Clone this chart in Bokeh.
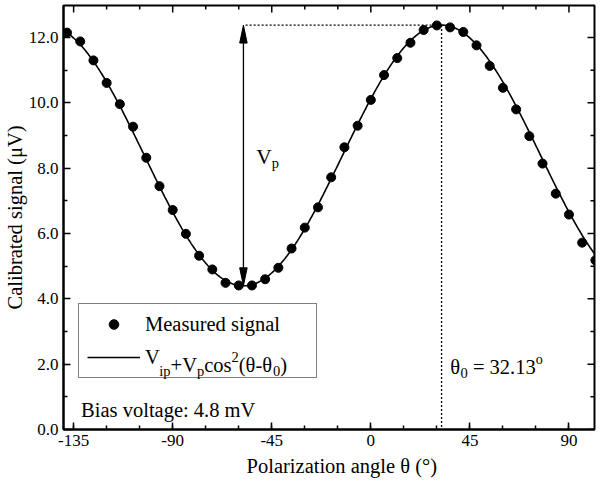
import numpy as np
from bokeh.plotting import figure
from bokeh.models import (Range1d, FixedTicker, Legend, LegendItem,
                          Label, PrintfTickFormatter)
from bokeh.embed import file_html
from bokeh.resources import INLINE

# ---------------- data ----------------
theta_deg = [-138, -132, -126, -120, -114, -108, -102, -96, -90, -84, -78, -72,
             -66, -60, -54, -48, -42, -36, -30, -24, -18, -12, -6, 0, 6, 12,
             18, 24, 30, 36, 42, 48, 54, 60, 66, 72, 78, 84, 90, 96, 102]
signal_uv = [12.15, 11.88, 11.30, 10.61, 9.96, 9.27, 8.32, 7.45, 6.72, 5.99,
             5.32, 4.90, 4.49, 4.41, 4.41, 4.60, 4.95, 5.54, 6.18, 6.80, 7.72,
             8.64, 9.30, 10.09, 10.85, 11.37, 11.84, 12.23, 12.37, 12.31, 12.17,
             11.76, 11.13, 10.46, 9.80, 8.98, 8.14, 7.22, 6.58, 5.72, 5.18]

# fit parameters  V = Vip + Vp cos^2(theta - theta0)
fit_vip = 4.40
fit_vp = 7.98
fit_theta0 = 32.13
bias_text = "Bias voltage: 4.8 mV"

x_ticks = [-135, -90, -45, 0, 45, 90]
x_minor = [-135, -120, -105, -90, -75, -60, -45, -30, -15, 0, 15, 30, 45, 60, 75, 90]
y_ticks = [0, 2, 4, 6, 8, 10, 12]
y_minor = [1, 3, 5, 7, 9, 11]

X0, X1 = -139.6, 101.6
Y0, Y1 = 0.0, 12.98
FIG_W, FIG_H = 596, 481
B_LEFT, B_RIGHT, B_TOP, B_BOTTOM = 63, 2, 5, 52
FRAME_W = FIG_W - B_LEFT - B_RIGHT
FRAME_H = FIG_H - B_TOP - B_BOTTOM

FONT = "Liberation Serif"
NB = "\u00a0"
TXT = 20.5      # main text size (px)
SUB = 14.5      # sub/superscript size (px)

p = figure(width=FIG_W, height=FIG_H, x_range=Range1d(X0, X1), y_range=Range1d(Y0, Y1),
           output_backend="svg", toolbar_location=None,
           min_border_left=B_LEFT, min_border_right=B_RIGHT,
           min_border_top=B_TOP, min_border_bottom=B_BOTTOM)
p.grid.visible = False
p.outline_line_color = "black"
p.outline_line_width = 2
p.background_fill_color = "white"
p.border_fill_color = "white"

xt = FixedTicker(ticks=x_ticks, minor_ticks=x_minor)
yt = FixedTicker(ticks=y_ticks, minor_ticks=y_minor)


def style_axis(ax):
    ax.axis_line_width = 2
    ax.axis_line_color = "black"
    ax.major_tick_in = 7
    ax.major_tick_out = 0
    ax.minor_tick_in = 4
    ax.minor_tick_out = 0
    ax.major_tick_line_width = 1.5
    ax.minor_tick_line_width = 1.5
    ax.major_tick_line_color = "black"
    ax.minor_tick_line_color = "black"
    ax.major_label_text_font = FONT
    ax.major_label_text_font_size = "17px"
    ax.major_label_text_color = "black"
    ax.axis_label_text_font = FONT
    ax.axis_label_text_font_size = f"{TXT}px"
    ax.axis_label_text_font_style = "normal"
    ax.axis_label_text_color = "black"


xa = p.xaxis[0]
xa.ticker = xt
xa.formatter = PrintfTickFormatter(format="%d")
style_axis(xa)
xa.axis_label = NB * 5 + "Polarization angle θ (°)"
xa.major_label_standoff = 5
xa.axis_label_standoff = 6

ya = p.yaxis[0]
ya.ticker = yt
ya.formatter = PrintfTickFormatter(format="%.1f")
style_axis(ya)
ya.axis_label = "Calibrated signal (μV)"
ya.major_label_standoff = 5
ya.axis_label_standoff = 0

# mirrored ticks on the top and right frame edges (from the tick lists)
dy_px = (Y1 - Y0) / FRAME_H
dx_px = (X1 - X0) / FRAME_W
tx = x_ticks + [t for t in x_minor if t not in x_ticks]
tx_len = [7] * len(x_ticks) + [4] * (len(tx) - len(x_ticks))
p.segment(x0=tx, y0=[Y1] * len(tx), x1=tx, y1=[Y1 - L * dy_px for L in tx_len],
          line_color="black", line_width=1.5)
ty = y_ticks + y_minor
ty_len = [7] * len(y_ticks) + [4] * len(y_minor)
p.segment(x0=[X1] * len(ty), y0=ty, x1=[X1 - L * dx_px for L in ty_len], y1=ty,
          line_color="black", line_width=1.5)

# ---------------- fit curve and data ----------------
th = np.linspace(X0, X1, 500)
fit_v = fit_vip + fit_vp * np.cos(np.radians(th - fit_theta0)) ** 2
r_fit = p.line(th, fit_v, line_color="black", line_width=1.6)
r_pts = p.scatter(theta_deg, signal_uv, size=9, marker="circle", fill_color="black",
                  line_color="black")

# ---------------- annotation lines ----------------
v_max = fit_vip + fit_vp
theta_min = fit_theta0 - 90
p.line([theta_min + 1.0, fit_theta0], [v_max, v_max], line_color="black",
       line_width=1.3, line_dash="2 2")
p.line([fit_theta0, fit_theta0], [v_max, Y0], line_color="black",
       line_width=1.3, line_dash="2 2")
head_len = 0.55
head_half = 1.7
p.segment(x0=[theta_min], y0=[fit_vip + 0.2], x1=[theta_min], y1=[v_max - 0.2],
          line_color="black", line_width=1.3)
p.patches(xs=[[theta_min - head_half, theta_min, theta_min + head_half],
              [theta_min - head_half, theta_min, theta_min + head_half]],
          ys=[[v_max - head_len, v_max, v_max - head_len],
              [fit_vip + head_len, fit_vip, fit_vip + head_len]],
          fill_color="black", line_color="black", line_width=1)

# ---------------- legend ----------------
LEG_X, LEG_Y = 15, 51          # offset of legend box from frame bottom-left (px)
LEG_PAD, LEG_ROW, LEG_GAP, LEG_GLYPH, LEG_STANDOFF = 8, 24, 9, 53, 5
legend = Legend(items=[LegendItem(label="Measured signal", renderers=[r_pts]),
                       LegendItem(label="V", renderers=[r_fit])],
                location=(LEG_X, LEG_Y))
legend.label_text_font = FONT
legend.label_text_font_size = f"{TXT}px"
legend.label_text_color = "black"
legend.glyph_width = LEG_GLYPH
legend.glyph_height = LEG_ROW
legend.label_height = LEG_ROW
legend.label_width = 163
legend.label_standoff = LEG_STANDOFF
legend.spacing = LEG_GAP
legend.padding = LEG_PAD
legend.margin = 0
legend.border_line_color = "black"
legend.border_line_width = 1.5
legend.background_fill_color = "white"
legend.background_fill_alpha = 0.0
p.add_layout(legend)

# ---------------- rich text helper ----------------
W = {'V': 0.722, 'i': 0.278, 'p': 0.5, '+': 0.564, 'c': 0.444, 'o': 0.5, 's': 0.389,
     '2': 0.5, '(': 0.333, ')': 0.333, '-': 0.333, '0': 0.5, 'θ': 0.5, ' ': 0.25,
     NB: 0.25, '=': 0.564, '3': 0.5, '1': 0.5, '.': 0.25}


def rich(x, y, pieces, start=0.0):
    off = start
    for txt, size, dy in pieces:
        p.add_layout(Label(x=x, y=y, x_offset=off, y_offset=dy, text=txt,
                           text_font=FONT, text_font_size=f"{size}px",
                           text_color="black", text_baseline="alphabetic",
                           text_align="left", level="overlay"))
        off += sum(W.get(ch, 0.5) for ch in txt) * size


# the formula continues the legend's second label "V"
leg_text_x = X0 + (LEG_X + LEG_PAD + LEG_GLYPH + LEG_STANDOFF) * dx_px
row2_mid = LEG_Y + LEG_PAD + LEG_ROW / 2
leg_base_y = (row2_mid - 6.5) * dy_px
rich(leg_text_x, leg_base_y,
     [("ip", SUB, -6), ("+V", TXT, 0), ("p", SUB, -6), ("cos", TXT, 0), ("2", SUB, 8),
      ("(θ-θ", TXT, 0), ("0", SUB, -6), (")", TXT, 0)], start=0.722 * TXT)
rich(-52.0, 8.33, [("V", 21.5, 0), ("p", SUB, -6)])
rich(36.1, 1.9, [("θ", TXT, 0), ("0", SUB, -6),
                 (f"{NB}={NB}{fit_theta0:.2f}", TXT, 0), ("o", 14, 8)])
p.add_layout(Label(x=-131.6, y=0.59, text=bias_text, text_font=FONT,
                   text_font_size=f"{TXT}px", text_color="black",
                   text_baseline="alphabetic"))

open("out.html", "w").write(file_html(p, INLINE))
